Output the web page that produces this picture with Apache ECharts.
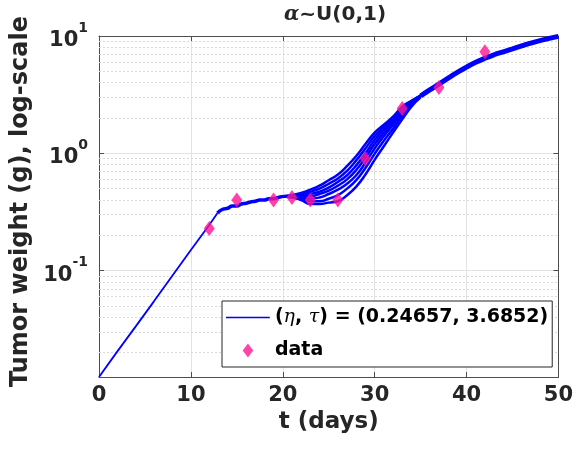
<!DOCTYPE html>
<html><head><meta charset="utf-8">
<script src="https://cdn.jsdelivr.net/npm/echarts@6/dist/echarts.min.js"></script>
<style>html,body{margin:0;padding:0;background:#fff}#c{width:576px;height:462px}</style>
</head><body><div id="c"></div>
<script>
// ---- data ----
const fitName = '(η, τ) = (0.24657, 3.6852)';
const earlyT = [0, 2, 4, 6, 8, 10, 12, 12.9];
const earlyW = [0.0124, 0.0205, 0.0335, 0.055, 0.091, 0.150, 0.245, 0.31];
const plateauT = [12.9, 13.5, 14, 14.5, 15, 15.5, 16, 16.5, 17, 17.5, 18, 18.5, 19, 19.5, 20];
const plateauW = [0.31, 0.335, 0.34, 0.355, 0.355, 0.37, 0.375, 0.385, 0.39, 0.40, 0.40, 0.41, 0.41, 0.42, 0.43];
const bandT = [20, 21, 22, 23, 24, 25, 26, 27, 28, 29, 30, 31, 32, 33, 34, 35];
const bandA = [0.43, 0.44, 0.46, 0.49, 0.53, 0.59, 0.66, 0.78, 0.95, 1.20, 1.50, 1.75, 2.05, 2.50, 2.80, 3.10];
const bandB = [0.43, 0.44, 0.45, 0.47, 0.50, 0.55, 0.61, 0.71, 0.87, 1.10, 1.40, 1.68, 2.00, 2.45, 2.78, 3.10];
const bandC = [0.43, 0.43, 0.44, 0.45, 0.47, 0.51, 0.57, 0.65, 0.79, 1.00, 1.30, 1.60, 1.93, 2.40, 2.75, 3.08];
const bandD = [0.43, 0.43, 0.43, 0.43, 0.45, 0.48, 0.53, 0.60, 0.72, 0.92, 1.20, 1.50, 1.85, 2.32, 2.72, 3.07];
const bandE = [0.43, 0.43, 0.42, 0.41, 0.42, 0.45, 0.49, 0.55, 0.65, 0.83, 1.10, 1.40, 1.75, 2.22, 2.66, 3.05];
const bandF = [0.43, 0.42, 0.41, 0.39, 0.39, 0.41, 0.44, 0.50, 0.59, 0.75, 0.99, 1.28, 1.62, 2.10, 2.60, 3.03];
const bandG = [0.43, 0.42, 0.40, 0.37, 0.37, 0.38, 0.39, 0.44, 0.52, 0.66, 0.88, 1.15, 1.50, 1.95, 2.50, 3.00];
const tailT = [35, 36, 37, 38, 39, 40, 41, 42, 43, 44, 45, 46, 47, 48, 49, 50];
const tailW = [3.08, 3.47, 3.89, 4.37, 4.9, 5.43, 5.96, 6.46, 6.92, 7.33, 7.76, 8.22, 8.71, 9.12, 9.55, 9.93];
const dataT = [12, 15, 19, 21, 23, 26, 29, 33, 37, 42];
const dataW = [0.229, 0.40, 0.40, 0.42, 0.40, 0.40, 0.90, 2.41, 3.64, 7.34];
const xTicks = [0, 10, 20, 30, 40, 50];
const yMin = 0.0124, yMax = 10;
const minorGrid = [0.02,0.03,0.04,0.05,0.06,0.07,0.08,0.09,0.2,0.3,0.4,0.5,0.6,0.7,0.8,0.9,2,3,4,5,6,7,8,9];

// ---- chart ----
const FONT = 'DejaVu Sans';
const BLUE = '#0000FF', PINK = '#FF1493', AX = '#4d4d4d', TXT = '#262626';
const zip = (t, w) => t.map((v, i) => [v, w[i]]);
const lineSeries = (t, w, width) => ({
  name: fitName, type: 'line', data: zip(t, w), symbol: 'none', smooth: true,
  lineStyle: { color: BLUE, width: width }, itemStyle: { color: BLUE }, z: 3
});
const bands = [bandA, bandB, bandC, bandD, bandE, bandF, bandG];
const LINE_ICON = 'path://M0,0L44,0L44,0.05L0,0.05Z M0,6.3L44,6.3L44,7.8L0,7.8Z M0,14L44,14L44,14.05L0,14.05Z';
const DIAMOND_ICON = 'path://M0,6L4.5,0L9,6L4.5,12Z';

const chart = echarts.init(document.getElementById('c'), null, { renderer: 'canvas' });
chart.setOption({
  animation: false,
  backgroundColor: '#fff',
  title: {
    text: '{a|α}{b|~U(0,1)}', left: 330, top: 0, textAlign: 'center',
    textStyle: { rich: {
      a: { fontFamily: 'DejaVu Serif', fontStyle: 'italic', fontSize: 20, color: TXT },
      b: { fontFamily: FONT, fontWeight: 'bold', fontSize: 20, color: TXT }
    } }
  },
  grid: { left: 99, right: 16, top: 36, bottom: 85, show: false },
  legend: {
    data: [{ name: fitName, icon: LINE_ICON }, { name: 'data', icon: DIAMOND_ICON }],
    orient: 'vertical', left: 222, top: 301,
    padding: [7, 4, 7, 4], itemWidth: 44, itemHeight: 14, itemGap: 14,
    borderColor: TXT, borderWidth: 1, backgroundColor: '#fff',
    formatter: n => n === 'data' ? '{p|data}' : '{p|(}{g|η}{p|, }{g|τ}{p|' + n.slice(n.indexOf(')')) + '}',
    textStyle: { rich: {
      p: { fontFamily: FONT, fontWeight: 'bold', fontSize: 19, color: '#000' },
      g: { fontFamily: 'DejaVu Serif', fontStyle: 'italic', fontSize: 19, color: '#000' }
    } }
  },
  xAxis: [{
    type: 'value', min: 0, max: 50, interval: 10,
    name: 't (days)', nameLocation: 'middle', nameGap: 31,
    nameTextStyle: { fontFamily: FONT, fontWeight: 'bold', fontSize: 23, color: TXT },
    axisLine: { show: true, onZero: false, lineStyle: { color: AX } },
    axisTick: { inside: true, length: 5, lineStyle: { color: AX } },
    axisLabel: { margin: 8, fontFamily: FONT, fontWeight: 'bold', fontSize: 21, color: TXT },
    splitLine: { show: true, lineStyle: { color: '#e3e3e3', width: 1 } }
  }, {
    type: 'value', min: 0, max: 50, interval: 10, position: 'top',
    axisLine: { show: true, onZero: false, lineStyle: { color: AX } },
    axisTick: { inside: true, length: 5, lineStyle: { color: AX } },
    axisLabel: { show: false }, splitLine: { show: false }
  }],
  yAxis: [{
    type: 'log', logBase: 10, min: yMin, max: yMax,
    name: 'Tumor weight (g), log-scale', nameLocation: 'middle', nameGap: 64,
    nameTextStyle: { fontFamily: FONT, fontWeight: 'bold', fontSize: 24, color: TXT, padding: [0, 0, 0, 10] },
    axisLine: { show: true, onZero: false, lineStyle: { color: AX } },
    axisTick: { inside: true, length: 5, lineStyle: { color: AX } },
    axisLabel: {
      margin: 11, showMinLabel: false,
      formatter: v => '{b|10}{s|' + Math.round(Math.log10(v)) + '}',
      rich: {
        b: { fontFamily: FONT, fontWeight: 'bold', fontSize: 21, color: TXT, verticalAlign: 'bottom', padding: [9, 0, 0, 0] },
        s: { fontFamily: FONT, fontWeight: 'bold', fontSize: 14, color: TXT, verticalAlign: 'top' }
      }
    },
    splitLine: { show: true, lineStyle: { color: '#e3e3e3', width: 1 } }
  }, {
    type: 'log', logBase: 10, min: yMin, max: yMax, position: 'right',
    axisLine: { show: true, onZero: false, lineStyle: { color: AX } },
    axisTick: { inside: true, length: 5, lineStyle: { color: AX } },
    axisLabel: { show: false }, splitLine: { show: false }
  }],
  series: [
    {
      name: 'minor', type: 'line', data: [], z: 1, silent: true,
      markLine: {
        z: 1, silent: true, symbol: 'none', label: { show: false },
        lineStyle: { color: '#d9d9d9', type: [2, 2], width: 1 },
        data: minorGrid.map(v => ({ yAxis: v }))
      }
    },
    Object.assign(lineSeries(earlyT, earlyW, 1.8), { smooth: false }),
    lineSeries(plateauT, plateauW, 3.5),
    ...bands.map(b => lineSeries(bandT, b, 2.5)),
    lineSeries(tailT, tailW, 5),
    {
      name: 'data', type: 'scatter', data: zip(dataT, dataW),
      symbol: 'diamond', symbolSize: [11, 15], itemStyle: { color: PINK }, z: 5
    }
  ]
});
</script></body></html>
